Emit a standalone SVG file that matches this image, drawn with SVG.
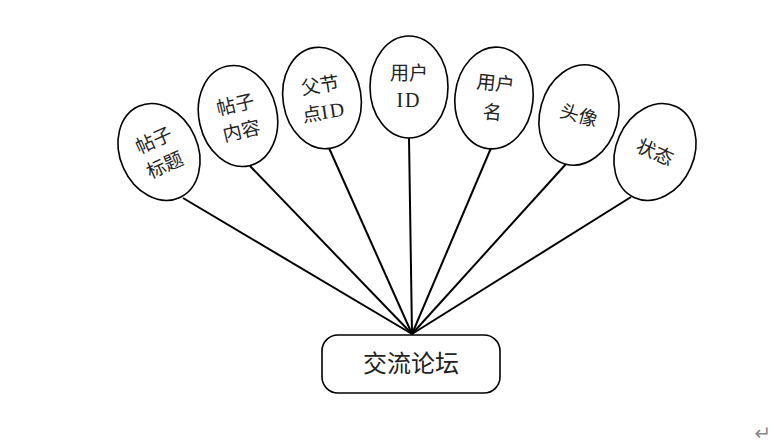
<svg xmlns="http://www.w3.org/2000/svg" width="774" height="447" viewBox="0 0 774 447">
<style>
.n ellipse{fill:#fff;stroke:#000;stroke-width:1.6}
.t{font-family:"Noto Sans CJK SC",sans-serif;font-size:19px;fill:#222;text-anchor:middle}
.s{font-family:"Liberation Serif",serif;font-size:20px;letter-spacing:2px}
.c line{stroke:#000;stroke-width:2}
</style>
<rect width="774" height="447" fill="#fff"/>
<g class="c" id="connectors">
<line x1="183" y1="198" x2="412" y2="334"/>
<line x1="250" y1="166" x2="412" y2="334"/>
<line x1="329" y1="148" x2="412" y2="334"/>
<line x1="409" y1="138" x2="412" y2="334"/>
<line x1="491" y1="148" x2="412" y2="334"/>
<line x1="566" y1="164" x2="412" y2="334"/>
<line x1="631" y1="197" x2="412" y2="334"/>
</g>
<g class="n" id="n1" transform="translate(159,152) rotate(-24)">
<ellipse rx="39" ry="50"/>
<text class="t" y="-6">帖子</text><text class="t" y="21">标题</text>
</g>
<g class="n" id="n2" transform="translate(238,116) rotate(-13)">
<ellipse rx="39" ry="51"/>
<text class="t" y="-5">帖子</text><text class="t" y="22">内容</text>
</g>
<g class="n" id="n3" transform="translate(322,98) rotate(-9)">
<ellipse rx="39" ry="51"/>
<text class="t" y="-6">父节</text><text class="t" y="21">点<tspan class="s">ID</tspan></text>
</g>
<g class="n" id="n4" transform="translate(409,87)">
<ellipse rx="39" ry="51"/>
<text class="t" y="-7">用户</text><text class="t" y="20"><tspan class="s">ID</tspan></text>
</g>
<g class="n" id="n5" transform="translate(494,98) rotate(6)">
<ellipse rx="39" ry="51"/>
<text class="t" y="-8">用户</text><text class="t" y="21">名</text>
</g>
<g class="n" id="n6" transform="translate(579,115) rotate(16)">
<ellipse rx="39" ry="51"/>
<text class="t" y="7">头像</text>
</g>
<g class="n" id="n7" transform="translate(655,152) rotate(24)">
<ellipse rx="39" ry="50"/>
<text class="t" y="7">状态</text>
</g>
<g id="center">
<rect x="322" y="335" width="178" height="58" rx="16" fill="#fff" stroke="#000" stroke-width="1.6"/>
<text x="411" y="372" font-family="'Noto Sans CJK SC',sans-serif" font-size="24" fill="#222" text-anchor="middle">交流论坛</text>
</g>
<text x="763" y="440" font-family="'DejaVu Sans',sans-serif" font-size="20" fill="#888" text-anchor="middle">↵</text>
</svg>
